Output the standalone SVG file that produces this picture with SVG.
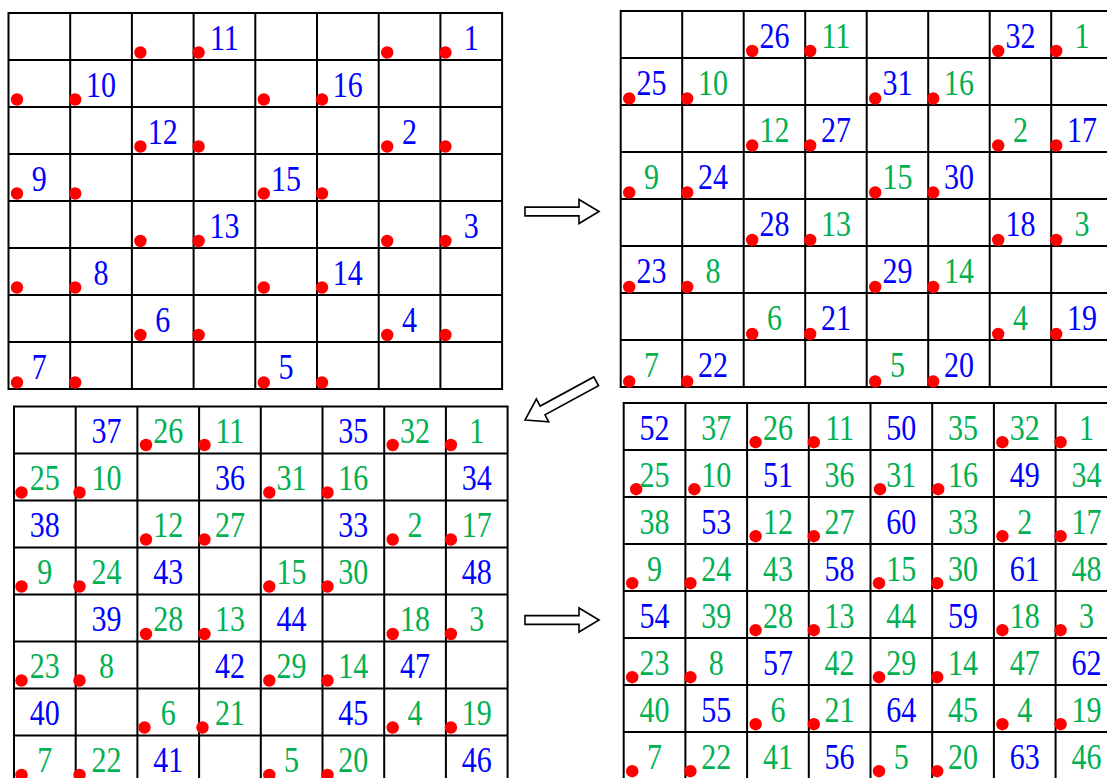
<svg xmlns="http://www.w3.org/2000/svg" xmlns:xlink="http://www.w3.org/1999/xlink" width="1107" height="778" viewBox="0 0 1107 778">
<style>
.frame{fill:#fff;stroke:#000;stroke-width:2}
.line{fill:none;stroke:#000;stroke-width:2}
.dot{fill:#f00}
text{font-family:"Liberation Serif","Times New Roman",serif;font-size:30px;text-anchor:middle}
.b{fill:#0000ff}
.g{fill:#00b050}
.arrow{fill:#fff;stroke:#000;stroke-width:1.6;stroke-linejoin:miter}
</style>
<defs>
<path id="arrH" class="arrow" d="M0,0 L-20,-12 L-20,-4.4 L-74,-4.4 L-74,4.4 L-20,4.4 L-20,12 Z"/>
<path id="arrD" class="arrow" d="M0,0 L-20,-13 L-20,-5 L-81,-5 L-81,5 L-20,5 L-20,13 Z"/>
</defs>
<rect width="1107" height="778" fill="#fff"/>

<g id="grid1">
<rect class="frame" x="8.5" y="13" width="493.6" height="376"/>
<path class="line" d="M70.2 13V389M131.9 13V389M193.6 13V389M255.3 13V389M317 13V389M378.7 13V389M440.4 13V389M8.5 60H502.1M8.5 107H502.1M8.5 154H502.1M8.5 201H502.1M8.5 248H502.1M8.5 295H502.1M8.5 342H502.1"/>
<circle class="dot" cx="140.4" cy="52.5" r="6.2"/><circle class="dot" cx="198.6" cy="52.5" r="6.2"/><circle class="dot" cx="387.2" cy="52.5" r="6.2"/><circle class="dot" cx="445.4" cy="52.5" r="6.2"/>
<circle class="dot" cx="17" cy="99.5" r="6.2"/><circle class="dot" cx="75.2" cy="99.5" r="6.2"/><circle class="dot" cx="263.8" cy="99.5" r="6.2"/><circle class="dot" cx="322" cy="99.5" r="6.2"/>
<circle class="dot" cx="140.4" cy="146.5" r="6.2"/><circle class="dot" cx="198.6" cy="146.5" r="6.2"/><circle class="dot" cx="387.2" cy="146.5" r="6.2"/><circle class="dot" cx="445.4" cy="146.5" r="6.2"/>
<circle class="dot" cx="17" cy="193.5" r="6.2"/><circle class="dot" cx="75.2" cy="193.5" r="6.2"/><circle class="dot" cx="263.8" cy="193.5" r="6.2"/><circle class="dot" cx="322" cy="193.5" r="6.2"/>
<circle class="dot" cx="140.4" cy="241" r="6.2"/><circle class="dot" cx="198.6" cy="241" r="6.2"/><circle class="dot" cx="387.2" cy="241" r="6.2"/><circle class="dot" cx="445.4" cy="241" r="6.2"/>
<circle class="dot" cx="17" cy="287.5" r="6.2"/><circle class="dot" cx="75.2" cy="287.5" r="6.2"/><circle class="dot" cx="263.8" cy="287.5" r="6.2"/><circle class="dot" cx="322" cy="287.5" r="6.2"/>
<circle class="dot" cx="140.4" cy="335" r="6.2"/><circle class="dot" cx="198.6" cy="335" r="6.2"/><circle class="dot" cx="387.2" cy="335" r="6.2"/><circle class="dot" cx="445.4" cy="335" r="6.2"/>
<circle class="dot" cx="17" cy="382.5" r="6.2"/><circle class="dot" cx="75.2" cy="382.5" r="6.2"/><circle class="dot" cx="263.8" cy="382.5" r="6.2"/><circle class="dot" cx="322" cy="382.5" r="6.2"/>
<text class="b" transform="translate(224.4 49.5)scale(1 1.22)">11</text>
<text class="b" transform="translate(471.2 49.5)scale(1 1.22)">1</text>
<text class="b" transform="translate(101 96.5)scale(1 1.22)">10</text>
<text class="b" transform="translate(347.8 96.5)scale(1 1.22)">16</text>
<text class="b" transform="translate(162.7 143.5)scale(1 1.22)">12</text>
<text class="b" transform="translate(409.5 143.5)scale(1 1.22)">2</text>
<text class="b" transform="translate(39.3 190.5)scale(1 1.22)">9</text>
<text class="b" transform="translate(286.1 190.5)scale(1 1.22)">15</text>
<text class="b" transform="translate(224.4 237.5)scale(1 1.22)">13</text>
<text class="b" transform="translate(471.2 237.5)scale(1 1.22)">3</text>
<text class="b" transform="translate(101 284.5)scale(1 1.22)">8</text>
<text class="b" transform="translate(347.8 284.5)scale(1 1.22)">14</text>
<text class="b" transform="translate(162.7 331.5)scale(1 1.22)">6</text>
<text class="b" transform="translate(409.5 331.5)scale(1 1.22)">4</text>
<text class="b" transform="translate(39.3 378.5)scale(1 1.22)">7</text>
<text class="b" transform="translate(286.1 378.5)scale(1 1.22)">5</text>
</g>

<g id="grid2">
<rect class="frame" x="620.7" y="11" width="492" height="376"/>
<path class="line" d="M682.2 11V387M743.7 11V387M805.2 11V387M866.7 11V387M928.2 11V387M989.7 11V387M1051.2 11V387M620.7 58H1112.7M620.7 105H1112.7M620.7 152H1112.7M620.7 199H1112.7M620.7 246H1112.7M620.7 293H1112.7M620.7 340H1112.7"/>
<circle class="dot" cx="752.2" cy="51" r="6.2"/><circle class="dot" cx="810.2" cy="51" r="6.2"/><circle class="dot" cx="998.2" cy="51" r="6.2"/><circle class="dot" cx="1056.2" cy="51" r="6.2"/>
<circle class="dot" cx="629.2" cy="98.5" r="6.2"/><circle class="dot" cx="687.2" cy="98.5" r="6.2"/><circle class="dot" cx="875.2" cy="98.5" r="6.2"/><circle class="dot" cx="933.2" cy="98.5" r="6.2"/>
<circle class="dot" cx="752.2" cy="145.5" r="6.2"/><circle class="dot" cx="810.2" cy="145.5" r="6.2"/><circle class="dot" cx="998.2" cy="145.5" r="6.2"/><circle class="dot" cx="1056.2" cy="145.5" r="6.2"/>
<circle class="dot" cx="629.2" cy="192.5" r="6.2"/><circle class="dot" cx="687.2" cy="192.5" r="6.2"/><circle class="dot" cx="875.2" cy="192.5" r="6.2"/><circle class="dot" cx="933.2" cy="192.5" r="6.2"/>
<circle class="dot" cx="752.2" cy="240" r="6.2"/><circle class="dot" cx="810.2" cy="240" r="6.2"/><circle class="dot" cx="998.2" cy="240" r="6.2"/><circle class="dot" cx="1056.2" cy="240" r="6.2"/>
<circle class="dot" cx="629.2" cy="287" r="6.2"/><circle class="dot" cx="687.2" cy="287" r="6.2"/><circle class="dot" cx="875.2" cy="287" r="6.2"/><circle class="dot" cx="933.2" cy="287" r="6.2"/>
<circle class="dot" cx="752.2" cy="334" r="6.2"/><circle class="dot" cx="810.2" cy="334" r="6.2"/><circle class="dot" cx="998.2" cy="334" r="6.2"/><circle class="dot" cx="1056.2" cy="334" r="6.2"/>
<circle class="dot" cx="629.2" cy="381.5" r="6.2"/><circle class="dot" cx="687.2" cy="381.5" r="6.2"/><circle class="dot" cx="875.2" cy="381.5" r="6.2"/><circle class="dot" cx="933.2" cy="381.5" r="6.2"/>
<text class="b" transform="translate(774.4 47.5)scale(1 1.22)">26</text>
<text class="g" transform="translate(835.9 47.5)scale(1 1.22)">11</text>
<text class="b" transform="translate(1020.4 47.5)scale(1 1.22)">32</text>
<text class="g" transform="translate(1081.9 47.5)scale(1 1.22)">1</text>
<text class="b" transform="translate(651.4 94.5)scale(1 1.22)">25</text>
<text class="g" transform="translate(712.9 94.5)scale(1 1.22)">10</text>
<text class="b" transform="translate(897.4 94.5)scale(1 1.22)">31</text>
<text class="g" transform="translate(958.9 94.5)scale(1 1.22)">16</text>
<text class="g" transform="translate(774.4 141.5)scale(1 1.22)">12</text>
<text class="b" transform="translate(835.9 141.5)scale(1 1.22)">27</text>
<text class="g" transform="translate(1020.4 141.5)scale(1 1.22)">2</text>
<text class="b" transform="translate(1081.9 141.5)scale(1 1.22)">17</text>
<text class="g" transform="translate(651.4 188.5)scale(1 1.22)">9</text>
<text class="b" transform="translate(712.9 188.5)scale(1 1.22)">24</text>
<text class="g" transform="translate(897.4 188.5)scale(1 1.22)">15</text>
<text class="b" transform="translate(958.9 188.5)scale(1 1.22)">30</text>
<text class="b" transform="translate(774.4 235.5)scale(1 1.22)">28</text>
<text class="g" transform="translate(835.9 235.5)scale(1 1.22)">13</text>
<text class="b" transform="translate(1020.4 235.5)scale(1 1.22)">18</text>
<text class="g" transform="translate(1081.9 235.5)scale(1 1.22)">3</text>
<text class="b" transform="translate(651.4 282.5)scale(1 1.22)">23</text>
<text class="g" transform="translate(712.9 282.5)scale(1 1.22)">8</text>
<text class="b" transform="translate(897.4 282.5)scale(1 1.22)">29</text>
<text class="g" transform="translate(958.9 282.5)scale(1 1.22)">14</text>
<text class="g" transform="translate(774.4 329.5)scale(1 1.22)">6</text>
<text class="b" transform="translate(835.9 329.5)scale(1 1.22)">21</text>
<text class="g" transform="translate(1020.4 329.5)scale(1 1.22)">4</text>
<text class="b" transform="translate(1081.9 329.5)scale(1 1.22)">19</text>
<text class="g" transform="translate(651.4 376.5)scale(1 1.22)">7</text>
<text class="b" transform="translate(712.9 376.5)scale(1 1.22)">22</text>
<text class="g" transform="translate(897.4 376.5)scale(1 1.22)">5</text>
<text class="b" transform="translate(958.9 376.5)scale(1 1.22)">20</text>
</g>

<g id="grid3">
<rect class="frame" x="14" y="406.5" width="493.6" height="376"/>
<path class="line" d="M75.7 406.5V782.5M137.4 406.5V782.5M199.1 406.5V782.5M260.8 406.5V782.5M322.5 406.5V782.5M384.2 406.5V782.5M445.9 406.5V782.5M14 453.5H507.6M14 500.5H507.6M14 547.5H507.6M14 594.5H507.6M14 641.5H507.6M14 688.5H507.6M14 735.5H507.6"/>
<circle class="dot" cx="146" cy="445" r="6.2"/><circle class="dot" cx="204.5" cy="445" r="6.2"/><circle class="dot" cx="392.7" cy="445" r="6.2"/><circle class="dot" cx="450.9" cy="445" r="6.2"/>
<circle class="dot" cx="21.5" cy="492.5" r="6.2"/><circle class="dot" cx="79.5" cy="492.5" r="6.2"/><circle class="dot" cx="269.3" cy="492.5" r="6.2"/><circle class="dot" cx="327.5" cy="492.5" r="6.2"/>
<circle class="dot" cx="146" cy="539.5" r="6.2"/><circle class="dot" cx="204.5" cy="539.5" r="6.2"/><circle class="dot" cx="392.7" cy="539.5" r="6.2"/><circle class="dot" cx="450.9" cy="539.5" r="6.2"/>
<circle class="dot" cx="21.5" cy="586.5" r="6.2"/><circle class="dot" cx="79.5" cy="586.5" r="6.2"/><circle class="dot" cx="269.3" cy="586.5" r="6.2"/><circle class="dot" cx="327.5" cy="586.5" r="6.2"/>
<circle class="dot" cx="146" cy="634" r="6.2"/><circle class="dot" cx="204.5" cy="634" r="6.2"/><circle class="dot" cx="392.7" cy="634" r="6.2"/><circle class="dot" cx="450.9" cy="634" r="6.2"/>
<circle class="dot" cx="21.5" cy="680.5" r="6.2"/><circle class="dot" cx="79.5" cy="680.5" r="6.2"/><circle class="dot" cx="269.3" cy="680.5" r="6.2"/><circle class="dot" cx="327.5" cy="680.5" r="6.2"/>
<circle class="dot" cx="144.5" cy="727.5" r="6.2"/><circle class="dot" cx="202.5" cy="727.5" r="6.2"/><circle class="dot" cx="392.7" cy="727.5" r="6.2"/><circle class="dot" cx="450.9" cy="727.5" r="6.2"/>
<circle class="dot" cx="21.5" cy="775" r="6.2"/><circle class="dot" cx="79.5" cy="775" r="6.2"/><circle class="dot" cx="269.3" cy="775" r="6.2"/><circle class="dot" cx="327.5" cy="775" r="6.2"/>
<text class="b" transform="translate(106.5 443)scale(1 1.22)">37</text>
<text class="g" transform="translate(168.2 443)scale(1 1.22)">26</text>
<text class="g" transform="translate(229.9 443)scale(1 1.22)">11</text>
<text class="b" transform="translate(353.3 443)scale(1 1.22)">35</text>
<text class="g" transform="translate(415 443)scale(1 1.22)">32</text>
<text class="g" transform="translate(476.7 443)scale(1 1.22)">1</text>
<text class="g" transform="translate(44.8 490)scale(1 1.22)">25</text>
<text class="g" transform="translate(106.5 490)scale(1 1.22)">10</text>
<text class="b" transform="translate(229.9 490)scale(1 1.22)">36</text>
<text class="g" transform="translate(291.6 490)scale(1 1.22)">31</text>
<text class="g" transform="translate(353.3 490)scale(1 1.22)">16</text>
<text class="b" transform="translate(476.7 490)scale(1 1.22)">34</text>
<text class="b" transform="translate(44.8 537)scale(1 1.22)">38</text>
<text class="g" transform="translate(168.2 537)scale(1 1.22)">12</text>
<text class="g" transform="translate(229.9 537)scale(1 1.22)">27</text>
<text class="b" transform="translate(353.3 537)scale(1 1.22)">33</text>
<text class="g" transform="translate(415 537)scale(1 1.22)">2</text>
<text class="g" transform="translate(476.7 537)scale(1 1.22)">17</text>
<text class="g" transform="translate(44.8 584)scale(1 1.22)">9</text>
<text class="g" transform="translate(106.5 584)scale(1 1.22)">24</text>
<text class="b" transform="translate(168.2 584)scale(1 1.22)">43</text>
<text class="g" transform="translate(291.6 584)scale(1 1.22)">15</text>
<text class="g" transform="translate(353.3 584)scale(1 1.22)">30</text>
<text class="b" transform="translate(476.7 584)scale(1 1.22)">48</text>
<text class="b" transform="translate(106.5 631)scale(1 1.22)">39</text>
<text class="g" transform="translate(168.2 631)scale(1 1.22)">28</text>
<text class="g" transform="translate(229.9 631)scale(1 1.22)">13</text>
<text class="b" transform="translate(291.6 631)scale(1 1.22)">44</text>
<text class="g" transform="translate(415 631)scale(1 1.22)">18</text>
<text class="g" transform="translate(476.7 631)scale(1 1.22)">3</text>
<text class="g" transform="translate(44.8 678)scale(1 1.22)">23</text>
<text class="g" transform="translate(106.5 678)scale(1 1.22)">8</text>
<text class="b" transform="translate(229.9 678)scale(1 1.22)">42</text>
<text class="g" transform="translate(291.6 678)scale(1 1.22)">29</text>
<text class="g" transform="translate(353.3 678)scale(1 1.22)">14</text>
<text class="b" transform="translate(415 678)scale(1 1.22)">47</text>
<text class="b" transform="translate(44.8 725)scale(1 1.22)">40</text>
<text class="g" transform="translate(168.2 725)scale(1 1.22)">6</text>
<text class="g" transform="translate(229.9 725)scale(1 1.22)">21</text>
<text class="b" transform="translate(353.3 725)scale(1 1.22)">45</text>
<text class="g" transform="translate(415 725)scale(1 1.22)">4</text>
<text class="g" transform="translate(476.7 725)scale(1 1.22)">19</text>
<text class="g" transform="translate(44.8 772)scale(1 1.22)">7</text>
<text class="g" transform="translate(106.5 772)scale(1 1.22)">22</text>
<text class="b" transform="translate(168.2 772)scale(1 1.22)">41</text>
<text class="g" transform="translate(291.6 772)scale(1 1.22)">5</text>
<text class="g" transform="translate(353.3 772)scale(1 1.22)">20</text>
<text class="b" transform="translate(476.7 772)scale(1 1.22)">46</text>
</g>

<g id="grid4">
<rect class="frame" x="623.7" y="403" width="493.6" height="376"/>
<path class="line" d="M685.4 403V779M747.1 403V779M808.8 403V779M870.5 403V779M932.2 403V779M993.9 403V779M1055.6 403V779M623.7 450H1117.3M623.7 497H1117.3M623.7 544H1117.3M623.7 591H1117.3M623.7 638H1117.3M623.7 685H1117.3M623.7 732H1117.3"/>
<circle class="dot" cx="755.6" cy="442.2" r="6.2"/><circle class="dot" cx="813.8" cy="442.2" r="6.2"/><circle class="dot" cx="1002.4" cy="442.2" r="6.2"/><circle class="dot" cx="1060.6" cy="442.2" r="6.2"/>
<circle class="dot" cx="636.2" cy="489.2" r="6.2"/><circle class="dot" cx="694.4" cy="489.2" r="6.2"/><circle class="dot" cx="880" cy="489.2" r="6.2"/><circle class="dot" cx="938.2" cy="489.2" r="6.2"/>
<circle class="dot" cx="755.6" cy="536.2" r="6.2"/><circle class="dot" cx="813.8" cy="536.2" r="6.2"/><circle class="dot" cx="1002.4" cy="536.2" r="6.2"/><circle class="dot" cx="1060.6" cy="536.2" r="6.2"/>
<circle class="dot" cx="632.2" cy="583.2" r="6.2"/><circle class="dot" cx="690.4" cy="583.2" r="6.2"/><circle class="dot" cx="879" cy="583.2" r="6.2"/><circle class="dot" cx="937.2" cy="583.2" r="6.2"/>
<circle class="dot" cx="755.6" cy="630.2" r="6.2"/><circle class="dot" cx="813.8" cy="630.2" r="6.2"/><circle class="dot" cx="1002.4" cy="630.2" r="6.2"/><circle class="dot" cx="1060.6" cy="630.2" r="6.2"/>
<circle class="dot" cx="632.2" cy="677.2" r="6.2"/><circle class="dot" cx="690.4" cy="677.2" r="6.2"/><circle class="dot" cx="879" cy="677.2" r="6.2"/><circle class="dot" cx="937.2" cy="677.2" r="6.2"/>
<circle class="dot" cx="755.6" cy="724.2" r="6.2"/><circle class="dot" cx="813.8" cy="724.2" r="6.2"/><circle class="dot" cx="1002.4" cy="724.2" r="6.2"/><circle class="dot" cx="1060.6" cy="724.2" r="6.2"/>
<circle class="dot" cx="632.2" cy="771.2" r="6.2"/><circle class="dot" cx="690.4" cy="771.2" r="6.2"/><circle class="dot" cx="879" cy="771.2" r="6.2"/><circle class="dot" cx="937.2" cy="771.2" r="6.2"/>
<text class="b" transform="translate(654.5 439.5)scale(1 1.22)">52</text>
<text class="g" transform="translate(716.2 439.5)scale(1 1.22)">37</text>
<text class="g" transform="translate(777.9 439.5)scale(1 1.22)">26</text>
<text class="g" transform="translate(839.6 439.5)scale(1 1.22)">11</text>
<text class="b" transform="translate(901.3 439.5)scale(1 1.22)">50</text>
<text class="g" transform="translate(963 439.5)scale(1 1.22)">35</text>
<text class="g" transform="translate(1024.7 439.5)scale(1 1.22)">32</text>
<text class="g" transform="translate(1086.4 439.5)scale(1 1.22)">1</text>
<text class="g" transform="translate(654.5 486.5)scale(1 1.22)">25</text>
<text class="g" transform="translate(716.2 486.5)scale(1 1.22)">10</text>
<text class="b" transform="translate(777.9 486.5)scale(1 1.22)">51</text>
<text class="g" transform="translate(839.6 486.5)scale(1 1.22)">36</text>
<text class="g" transform="translate(901.3 486.5)scale(1 1.22)">31</text>
<text class="g" transform="translate(963 486.5)scale(1 1.22)">16</text>
<text class="b" transform="translate(1024.7 486.5)scale(1 1.22)">49</text>
<text class="g" transform="translate(1086.4 486.5)scale(1 1.22)">34</text>
<text class="g" transform="translate(654.5 533.5)scale(1 1.22)">38</text>
<text class="b" transform="translate(716.2 533.5)scale(1 1.22)">53</text>
<text class="g" transform="translate(777.9 533.5)scale(1 1.22)">12</text>
<text class="g" transform="translate(839.6 533.5)scale(1 1.22)">27</text>
<text class="b" transform="translate(901.3 533.5)scale(1 1.22)">60</text>
<text class="g" transform="translate(963 533.5)scale(1 1.22)">33</text>
<text class="g" transform="translate(1024.7 533.5)scale(1 1.22)">2</text>
<text class="g" transform="translate(1086.4 533.5)scale(1 1.22)">17</text>
<text class="g" transform="translate(654.5 580.5)scale(1 1.22)">9</text>
<text class="g" transform="translate(716.2 580.5)scale(1 1.22)">24</text>
<text class="g" transform="translate(777.9 580.5)scale(1 1.22)">43</text>
<text class="b" transform="translate(839.6 580.5)scale(1 1.22)">58</text>
<text class="g" transform="translate(901.3 580.5)scale(1 1.22)">15</text>
<text class="g" transform="translate(963 580.5)scale(1 1.22)">30</text>
<text class="b" transform="translate(1024.7 580.5)scale(1 1.22)">61</text>
<text class="g" transform="translate(1086.4 580.5)scale(1 1.22)">48</text>
<text class="b" transform="translate(654.5 627.5)scale(1 1.22)">54</text>
<text class="g" transform="translate(716.2 627.5)scale(1 1.22)">39</text>
<text class="g" transform="translate(777.9 627.5)scale(1 1.22)">28</text>
<text class="g" transform="translate(839.6 627.5)scale(1 1.22)">13</text>
<text class="g" transform="translate(901.3 627.5)scale(1 1.22)">44</text>
<text class="b" transform="translate(963 627.5)scale(1 1.22)">59</text>
<text class="g" transform="translate(1024.7 627.5)scale(1 1.22)">18</text>
<text class="g" transform="translate(1086.4 627.5)scale(1 1.22)">3</text>
<text class="g" transform="translate(654.5 674.5)scale(1 1.22)">23</text>
<text class="g" transform="translate(716.2 674.5)scale(1 1.22)">8</text>
<text class="b" transform="translate(777.9 674.5)scale(1 1.22)">57</text>
<text class="g" transform="translate(839.6 674.5)scale(1 1.22)">42</text>
<text class="g" transform="translate(901.3 674.5)scale(1 1.22)">29</text>
<text class="g" transform="translate(963 674.5)scale(1 1.22)">14</text>
<text class="g" transform="translate(1024.7 674.5)scale(1 1.22)">47</text>
<text class="b" transform="translate(1086.4 674.5)scale(1 1.22)">62</text>
<text class="g" transform="translate(654.5 721.5)scale(1 1.22)">40</text>
<text class="b" transform="translate(716.2 721.5)scale(1 1.22)">55</text>
<text class="g" transform="translate(777.9 721.5)scale(1 1.22)">6</text>
<text class="g" transform="translate(839.6 721.5)scale(1 1.22)">21</text>
<text class="b" transform="translate(901.3 721.5)scale(1 1.22)">64</text>
<text class="g" transform="translate(963 721.5)scale(1 1.22)">45</text>
<text class="g" transform="translate(1024.7 721.5)scale(1 1.22)">4</text>
<text class="g" transform="translate(1086.4 721.5)scale(1 1.22)">19</text>
<text class="g" transform="translate(654.5 768.5)scale(1 1.22)">7</text>
<text class="g" transform="translate(716.2 768.5)scale(1 1.22)">22</text>
<text class="g" transform="translate(777.9 768.5)scale(1 1.22)">41</text>
<text class="b" transform="translate(839.6 768.5)scale(1 1.22)">56</text>
<text class="g" transform="translate(901.3 768.5)scale(1 1.22)">5</text>
<text class="g" transform="translate(963 768.5)scale(1 1.22)">20</text>
<text class="b" transform="translate(1024.7 768.5)scale(1 1.22)">63</text>
<text class="g" transform="translate(1086.4 768.5)scale(1 1.22)">46</text>
</g>

<g id="connectors">
<use xlink:href="#arrH" href="#arrH" transform="translate(599 211.5)"/>
<use xlink:href="#arrD" href="#arrD" transform="translate(525 420) rotate(151.5)"/>
<use xlink:href="#arrH" href="#arrH" transform="translate(599 620)"/>
</g>
</svg>
